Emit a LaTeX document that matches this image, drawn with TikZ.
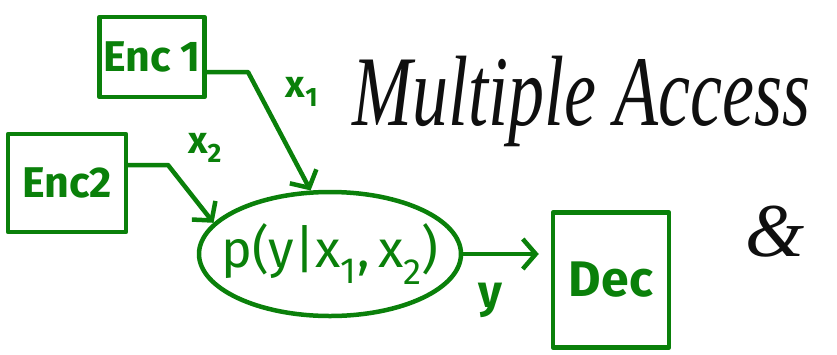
\documentclass[tikz,border=0pt]{standalone}
\usepackage{fontspec}
\setmainfont{Fira Sans}
\newfontfamily\handfont{Liberation Serif}
\usetikzlibrary{shapes.geometric, arrows.meta, positioning}
\definecolor{PenGreen}{RGB}{10, 128, 10}
\definecolor{PenBlack}{RGB}{15, 15, 15}

\tikzset{
  pen/.style={draw=PenGreen, line width=4.5pt, line cap=round, line join=round},
  encbox/.style={pen, rectangle, inner sep=0pt, text=PenGreen,
                 font=\fontsize{43}{45}\selectfont\bfseries},
  arr/.style={pen, -{Straight Barb[length=13pt, width=30pt, line width=4.5pt]}},
  lbl/.style={text=PenGreen, font=\fontsize{38}{40}\selectfont\bfseries}
}

\begin{document}
\begin{tikzpicture}[x=1pt,y=-1pt]
  \path[use as bounding box] (0,0) rectangle (837,354);

  % boxes
  \node[encbox, minimum width=105pt, minimum height=80pt] (enc1) at (152,57) {Enc 1};
  \node[encbox, minimum width=118pt, minimum height=98pt] (enc2) at (67,183) {Enc2};
  \node[encbox, minimum width=116pt, minimum height=135pt,
        font=\fontsize{50}{52}\selectfont\bfseries] (dec) at (611,280) {Dec};

  % channel
  \node[pen, ellipse, minimum width=262pt, minimum height=124pt,
        inner xsep=-40pt, inner ysep=0pt,
        text=PenGreen, font=\fontsize{52}{54}\selectfont] (chan) at (330,254)
        {p(y|x\textsubscript{1},\,x\textsubscript{2})};

  % connectors
  \coordinate (bend1) at (248,72);
  \coordinate (bend2) at (168,165);
  \draw[arr] (enc1.east |- bend1) -- (bend1) -- (chan.107);
  \draw[arr] (enc2.east |- bend2) -- (bend2) -- (chan.165);
  \draw[arr, shorten >=12pt] (chan.east) -- (dec.west |- chan.east);

  % labels
  \node[lbl] (lx1) at (302,92) {x\textsubscript{1}};
  \node[lbl] (lx2) at (205,148) {x\textsubscript{2}};
  \node[lbl, font=\fontsize{46}{48}\selectfont\bfseries] (ly) at (490,300) {y};

  % title
  \node[text=PenBlack, font=\handfont\itshape\fontsize{100}{102}\selectfont,
        anchor=base west, inner sep=0pt] (title) at (352,125)
        {\scalebox{0.72}[1]{Multiple Access}};
  \node[text=PenBlack, font=\handfont\itshape\fontsize{76}{78}\selectfont,
        inner sep=0pt] (amp) at (775,232) {\&};
\end{tikzpicture}
\end{document}
